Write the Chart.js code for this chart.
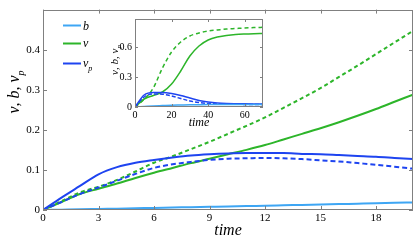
<!DOCTYPE html>
<html>
<head>
<meta charset="utf-8">
<script src="https://cdn.jsdelivr.net/npm/chart.js@4.4.1/dist/chart.umd.min.js"></script>
<style>
html, body { margin: 0; padding: 0; background: #fff; }
#wrap { position: relative; width: 415px; height: 241px; overflow: hidden; }
#mainChart { position: absolute; left: 0; top: 0; }
#insetChart { position: absolute; left: 100px; top: 10px; }
</style>
</head>
<body>
<div id="wrap">
    <canvas id="mainChart" width="415" height="241"></canvas>
    <canvas id="insetChart" width="170" height="128"></canvas>
</div>
<script>
// ::::: Main plot data (t = 0..20) :::::
const tMain = [0, 1, 2, 3, 4, 5, 6, 7, 8, 9, 10, 11, 12, 13, 14, 15, 16, 17, 18, 19, 20];
const bMain = [0, 0.0008, 0.0016, 0.0025, 0.0034, 0.0043, 0.0052, 0.0061, 0.007, 0.0079, 0.0088, 0.0098, 0.0107, 0.0117, 0.0127, 0.0137, 0.0147, 0.0157, 0.0167, 0.0178, 0.019];
const vMain = [0, 0.020, 0.040, 0.053, 0.066, 0.080, 0.093, 0.105, 0.117, 0.128, 0.139, 0.150, 0.162, 0.176, 0.190, 0.204, 0.219, 0.235, 0.252, 0.270, 0.288];
const vMainDash = [0, 0.022, 0.044, 0.058, 0.075, 0.096, 0.118, 0.134, 0.152, 0.170, 0.190, 0.210, 0.231, 0.255, 0.279, 0.304, 0.332, 0.360, 0.389, 0.418, 0.447];
const vpMain = [0, 0.031, 0.060, 0.089, 0.107, 0.118, 0.125, 0.131, 0.136, 0.139, 0.141, 0.142, 0.142, 0.142, 0.140, 0.139, 0.137, 0.135, 0.133, 0.130, 0.127];
const vpMainDash = [0, 0.020, 0.040, 0.056, 0.073, 0.090, 0.105, 0.114, 0.120, 0.125, 0.128, 0.129, 0.130, 0.129, 0.127, 0.124, 0.121, 0.117, 0.113, 0.108, 0.103];
const xTicksMain = [0, 3, 6, 9, 12, 15, 18];
const yTicksMain = [0, 0.1, 0.2, 0.3, 0.4];

// ::::: Inset data (t = 0..70) :::::
const tInset = [0, 5, 10, 15, 20, 25, 30, 35, 40, 45, 50, 55, 60, 65, 70];
const bInset = [0, 0.005, 0.010, 0.014, 0.018, 0.020, 0.022, 0.023, 0.024, 0.024, 0.025, 0.025, 0.025, 0.025, 0.025];
const vInset = [0, 0.080, 0.115, 0.150, 0.230, 0.360, 0.510, 0.610, 0.670, 0.700, 0.715, 0.725, 0.730, 0.733, 0.735];
const vInsetDash = [0, 0.076, 0.190, 0.390, 0.550, 0.650, 0.710, 0.740, 0.760, 0.770, 0.780, 0.785, 0.790, 0.794, 0.797];
const vpInset = [0, 0.120, 0.145, 0.145, 0.135, 0.115, 0.090, 0.066, 0.050, 0.040, 0.035, 0.033, 0.032, 0.031, 0.030];
const vpInsetDash = [0, 0.100, 0.130, 0.128, 0.110, 0.085, 0.060, 0.045, 0.035, 0.030, 0.028, 0.027, 0.026, 0.025, 0.025];
const xTicksInset = [0, 20, 40, 60];
const yTicksInset = [0, 0.3, 0.6];

// Colours
const colB = "#3ea6f4";
const colV = "#2db52a";
const colVp = "#1e44f0";
const frameColor = "#808080";
const serif = '"Liberation Serif", "DejaVu Serif", serif';

function pts(xs, ys) {
    return xs.map((x, i) => ({ x: x, y: ys[i] }));
}

// Box round the plot area with ticks pointing inwards (matlab style)
const frameTicks = {
    id: "frameTicks",
    afterDatasetsDraw(chart, args, opts) {
        const ctx = chart.ctx;
        const a = chart.chartArea;
        const sx = chart.scales.x;
        const sy = chart.scales.y;
        const len = opts.len || 4;
        ctx.save();
        ctx.strokeStyle = frameColor;
        ctx.lineWidth = 1;
        ctx.strokeRect(Math.round(a.left) + 0.5, Math.round(a.top) + 0.5, Math.round(a.right - a.left) - 1, Math.round(a.bottom - a.top) - 1);
        ctx.beginPath();
        sx.ticks.forEach(t => {
            const px = Math.round(sx.getPixelForValue(t.value)) + 0.5;
            ctx.moveTo(px, a.bottom); ctx.lineTo(px, a.bottom - len);
            ctx.moveTo(px, a.top); ctx.lineTo(px, a.top + len);
        });
        sy.ticks.forEach(t => {
            const py = Math.round(sy.getPixelForValue(t.value)) + 0.5;
            ctx.moveTo(a.left, py); ctx.lineTo(a.left + len, py);
            ctx.moveTo(a.right, py); ctx.lineTo(a.right - len, py);
        });
        ctx.stroke();
        ctx.restore();
    }
};

// White background inside the inset plot area
const whiteArea = {
    id: "whiteArea",
    beforeDraw(chart) {
        const a = chart.chartArea;
        chart.ctx.save();
        chart.ctx.fillStyle = "#fff";
        chart.ctx.fillRect(a.left, a.top, a.right - a.left, a.bottom - a.top);
        chart.ctx.restore();
    }
};

// Axis titles: "ν, b, ν_p" rotated and "time"
function drawYTitle(ctx, x, y, size) {
    ctx.save();
    ctx.translate(x, y);
    ctx.rotate(-Math.PI / 2);
    ctx.fillStyle = "#000";
    ctx.font = "italic " + size + "px " + serif;
    const main = "ν, b, ν";
    const subSize = Math.round(size * 0.6);
    const w = ctx.measureText(main).width;
    ctx.font = "italic " + subSize + "px " + serif;
    const ws = ctx.measureText("p").width;
    const x0 = -(w + ws) / 2;
    ctx.font = "italic " + size + "px " + serif;
    ctx.textBaseline = "alphabetic";
    ctx.textAlign = "left";
    ctx.fillText(main, x0, 0);
    ctx.font = "italic " + subSize + "px " + serif;
    ctx.fillText("p", x0 + w, size * 0.3);
    ctx.restore();
}

function drawXTitle(ctx, x, y, size) {
    ctx.save();
    ctx.fillStyle = "#000";
    ctx.font = "italic " + size + "px " + serif;
    ctx.textAlign = "center";
    ctx.textBaseline = "alphabetic";
    ctx.fillText("time", x, y);
    ctx.restore();
}

const mainTexts = {
    id: "mainTexts",
    afterDraw(chart) {
        const ctx = chart.ctx;
        const a = chart.chartArea;
        drawYTitle(ctx, 19, 92, 16);
        drawXTitle(ctx, (a.left + a.right) / 2, 235, 16);
        // Legend
        const items = [
            { label: "b", color: colB, y: 25.5, base: 30 },
            { label: "ν", color: colV, y: 43.5, base: 47 },
            { label: "ν", color: colVp, y: 63.5, base: 66.5, sub: "p" }
        ];
        ctx.save();
        items.forEach(it => {
            ctx.strokeStyle = it.color;
            ctx.lineWidth = 2;
            ctx.beginPath();
            ctx.moveTo(63, it.y);
            ctx.lineTo(81, it.y);
            ctx.stroke();
            ctx.fillStyle = "#000";
            ctx.font = "italic 12px " + serif;
            ctx.textAlign = "left";
            ctx.textBaseline = "alphabetic";
            ctx.fillText(it.label, 83, it.base);
            if (it.sub) {
                const w = ctx.measureText(it.label).width;
                ctx.font = "italic 8px " + serif;
                ctx.fillText(it.sub, 83 + w, it.base + 4);
            }
        });
        ctx.restore();
    }
};

const insetTexts = {
    id: "insetTexts",
    afterDraw(chart) {
        const ctx = chart.ctx;
        const a = chart.chartArea;
        drawYTitle(ctx, 18, 50, 11);
        drawXTitle(ctx, (a.left + a.right) / 2, 116, 12);
    }
};

function lineSet(xs, ys, color, width, dash) {
    return {
        data: pts(xs, ys),
        borderColor: color,
        backgroundColor: color,
        borderWidth: width,
        borderDash: dash || [],
        pointRadius: 0,
        fill: false,
        cubicInterpolationMode: "monotone"
    };
}

function axisOptions(min, max, tickList, fontSize, side, size, pad) {
    return {
        type: "linear",
        min: min,
        max: max,
        grid: { display: false, drawTicks: false },
        border: { display: false },
        afterBuildTicks: s => { s.ticks = tickList.map(v => ({ value: v })); },
        afterFit: s => { s[side] = size; },
        ticks: {
            color: "#000",
            font: { family: serif, size: fontSize },
            padding: pad,
            maxRotation: 0,
            autoSkip: false
        }
    };
}

// ::::: MAIN CHART :::::
const mainCtx = document.getElementById("mainChart");
const mainChart = new Chart(mainCtx, {
    type: "line",
    data: {
        datasets: [
            lineSet(tMain, bMain, colB, 2),
            lineSet(tMain, vpMain, colVp, 2),
            lineSet(tMain, vpMainDash, colVp, 2, [5, 3]),
            lineSet(tMain, vMain, colV, 2),
            lineSet(tMain, vMainDash, colV, 2, [4, 3])
        ]
    },
    options: {
        responsive: false,
        animation: false,
        layout: { padding: { top: 8, right: 2, left: 0, bottom: 0 } },
        plugins: {
            legend: { display: false },
            tooltip: { enabled: false },
            frameTicks: { len: 4 }
        },
        scales: {
            x: axisOptions(0, 20, xTicksMain, 11, "height", 31, 2),
            y: axisOptions(0, 0.5, yTicksMain, 11, "width", 43, 3)
        }
    },
    plugins: [frameTicks, mainTexts]
});

// ::::: INSET CHART :::::
const insetCtx = document.getElementById("insetChart");
const insetChart = new Chart(insetCtx, {
    type: "line",
    data: {
        datasets: [
            lineSet(tInset, bInset, colB, 1.5),
            lineSet(tInset, vpInset, colVp, 1.5),
            lineSet(tInset, vpInsetDash, colVp, 1.5, [4, 2]),
            lineSet(tInset, vInset, colV, 1.5),
            lineSet(tInset, vInsetDash, colV, 1.5, [4, 3])
        ]
    },
    options: {
        responsive: false,
        animation: false,
        layout: { padding: { top: 7, right: 7, left: 0, bottom: 0 } },
        plugins: {
            legend: { display: false },
            tooltip: { enabled: false },
            frameTicks: { len: 3 }
        },
        scales: {
            x: axisOptions(0, 70, xTicksInset, 10, "height", 31, 2),
            y: axisOptions(0, 0.88, yTicksInset, 10, "width", 35, 3)
        }
    },
    plugins: [whiteArea, frameTicks, insetTexts]
});
</script>
</body>
</html>
